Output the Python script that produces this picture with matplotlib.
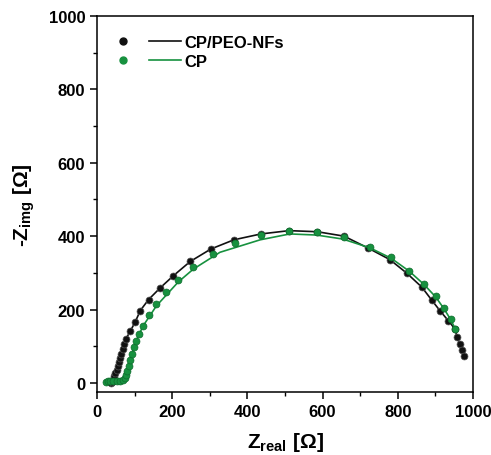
import matplotlib
matplotlib.use("Agg")
import matplotlib.pyplot as plt
from matplotlib.lines import Line2D
from matplotlib.legend_handler import HandlerTuple

plt.rcParams['font.family'] = ['Liberation Sans', 'DejaVu Sans']
plt.rcParams['mathtext.fontset'] = 'custom'
plt.rcParams['mathtext.rm'] = 'Liberation Sans:bold'
plt.rcParams['mathtext.bf'] = 'Liberation Sans:bold'

# CP/PEO-NFs (black)
peo_x = [38, 40, 42, 44, 46, 49, 52, 55, 58, 62, 65, 69, 73, 77, 89, 102, 115, 137, 168,
         203, 248, 303, 364, 436, 511, 586, 657, 722, 779, 824, 864, 890, 912, 934,
         952, 958, 965, 970, 976]
peo_y = [0, 2, 6, 12, 18, 26, 35, 45, 56, 68, 80, 92, 105, 120, 142, 167, 197, 227, 259,
         292, 331, 365, 390, 406, 415, 412, 400, 367, 336, 299, 261, 226, 197, 170,
         147, 124, 106, 91, 73]

# CP (green) points
cp_x = [25, 28, 34, 42, 52, 62, 70, 74, 77, 80, 84, 88, 93, 98, 104, 111, 123, 139, 158,
        184, 216, 256, 308, 367, 436, 511, 586, 658, 726, 782, 831, 870, 901, 923,
        941, 953]
cp_y = [3, 5, 6, 5, 4, 5, 8, 14, 22, 33, 47, 62, 80, 97, 115, 134, 156, 185, 214,
        247, 281, 317, 351, 381, 403, 414, 411, 398, 371, 342, 306, 270, 236, 204,
        174, 147]

# CP fitted curve as drawn
cp_fit_x = [25, 34, 52, 70, 77, 84, 93, 104, 123, 158, 216, 256, 327, 434, 513, 584,
            654, 726, 782, 831, 870, 901, 923, 941, 953]
cp_fit_y = [3, 6, 4, 8, 22, 47, 80, 115, 156, 210, 275, 310, 356, 390, 406, 403,
            392, 368, 340, 304, 268, 234, 202, 172, 147]

black = '#111111'
green = '#17913f'

fig = plt.figure(figsize=(4.91, 4.56), dpi=100)
ax = fig.add_axes([0.1976, 0.138, 0.7657, 0.8247])

ax.plot(peo_x, peo_y, '-', color=black, lw=1.2, zorder=2)
ax.plot(peo_x, peo_y, 'o', color=black, mec='#555555', mew=0.5, ms=5, zorder=3)
ax.plot(cp_fit_x, cp_fit_y, '-', color=green, lw=1.2, zorder=4)
ax.plot(cp_x, cp_y, 'o', color=green, mec='#0d6b2c', mew=0.5, ms=5, zorder=5)

ax.set_xlim(0, 1000)
ax.set_ylim(-25, 1000)
ax.set_xticks([0, 200, 400, 600, 800, 1000])
ax.set_xticks([100, 300, 500, 700, 900], minor=True)
ax.set_yticks([0, 200, 400, 600, 800, 1000])
ax.set_yticks([100, 300, 500, 700, 900], minor=True)
ax.tick_params(which='major', direction='out', length=5, width=1.1, labelsize=12)
ax.tick_params(which='minor', direction='out', length=3, width=1.0)
for lab in ax.get_xticklabels() + ax.get_yticklabels():
    lab.set_fontweight('bold')
for sp in ax.spines.values():
    sp.set_linewidth(1.1)

ax.set_xlabel(r'Z$_{\mathrm{real}}$ [Ω]', fontsize=15, fontweight='bold', labelpad=8)
ax.set_ylabel(r'-Z$_{\mathrm{img}}$ [Ω]', fontsize=15, fontweight='bold')
ax.yaxis.set_label_coords(-0.16, 0.5)

h1 = (Line2D([], [], ls='none', marker='o', color=black, ms=5),
      Line2D([], [], color=black, lw=1.2))
h2 = (Line2D([], [], ls='none', marker='o', color=green, ms=5),
      Line2D([], [], color=green, lw=1.2))
leg = ax.legend([h1, h2], ['CP/PEO-NFs', 'CP'],
                handler_map={tuple: HandlerTuple(ndivide=None, pad=0.6)},
                loc='upper left', bbox_to_anchor=(-0.015, 0.99), frameon=False,
                handlelength=4.5, handletextpad=0.2, labelspacing=0.25,
                prop={'weight': 'bold', 'size': 12})

fig.savefig('out.png', dpi=100)
